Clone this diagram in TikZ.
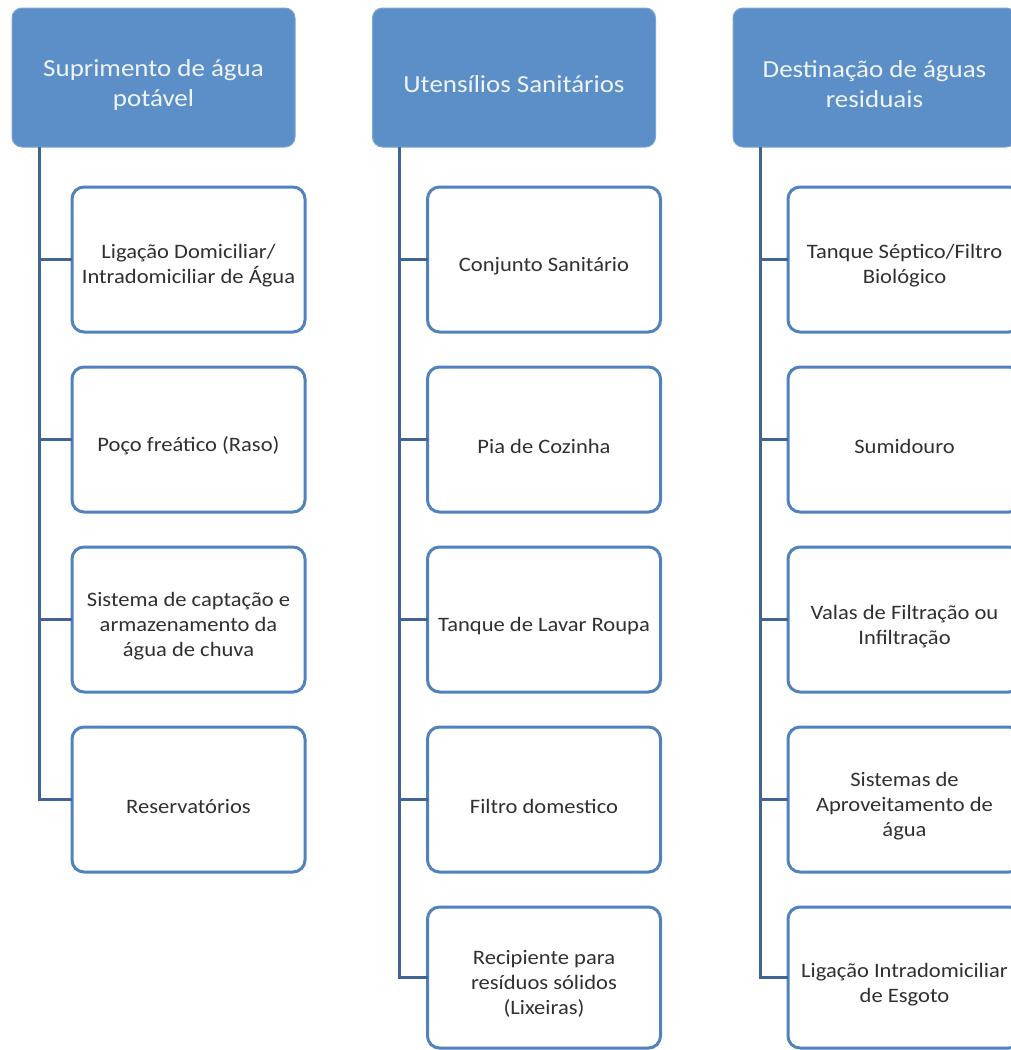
\documentclass[tikz,border=0pt]{standalone}
\usepackage{fontspec}
\setmainfont{Carlito}[FakeStretch=1.1]
\usepackage{tikz}
\usetikzlibrary{positioning}
\definecolor{HeadFill}{RGB}{92,143,200}
\definecolor{BoxLine}{RGB}{80,130,190}
\definecolor{TreeLine}{RGB}{64,100,150}
\definecolor{BoxText}{RGB}{48,48,48}
\newcommand{\hdw}{283}
\newcommand{\hdh}{139}
\newcommand{\bxw}{233}
\newcommand{\bxh}{145}
\newcommand{\stem}{27}
\newcommand{\dropstrut}{\rule{0pt}{\dimexpr\ht\strutbox+10pt\relax}}
\tikzset{
    headbox/.style={draw=HeadFill!80!white,fill=HeadFill,line width=1pt,rounded corners=10pt,
        minimum width=\hdw pt,minimum height=\hdh pt,inner sep=0pt,outer sep=0pt,
        align=center,text=white!90!HeadFill,font=\fontsize{24.5}{30}\selectfont},
    itembox/.style={draw=BoxLine,fill=white,line width=3pt,rounded corners=12pt,
        minimum width=\bxw pt,minimum height=\bxh pt,inner sep=0pt,outer sep=0pt,
        align=center,text=BoxText,font=\fontsize{20.5}{25}\selectfont},
    treeline/.style={draw=TreeLine,line width=3pt},
    node distance=35pt
}

\begin{document}
\begin{tikzpicture}[x=1pt,y=-1pt]
    \useasboundingbox (0,0) rectangle (1011,1050);    % Freeze the bounding box
    \clip (0,0) rectangle (1011,1050);
    \fill[white] (0,0) rectangle (1011,1050);
    %
    % --- --- --- Headers
    \node[headbox] (H1) at (153.5,77.5) {\dropstrut Suprimento de água\\potável};
    \node[headbox] (H2) at (514,77.5) {\dropstrut Utensílios Sanitários};
    \node[headbox] (H3) at (874.5,77.5) {\dropstrut Destinação de águas\\residuais};
    %
    % --- --- --- Suprimento de água potável
    \node[itembox,below right=40pt and 60pt of H1.south west] (C11) {\dropstrut Ligação Domiciliar/\\Intradomiciliar de Água};
    \node[itembox,below=of C11] (C12) {\dropstrut Poço freático (Raso)};
    \node[itembox,below=of C12] (C13) {\dropstrut Sistema de captação e\\armazenamento da\\água de chuva};
    \node[itembox,below=of C13] (C14) {\dropstrut Reservatórios};
    %
    % --- --- --- Utensílios Sanitários
    \node[itembox,below right=40pt and 55pt of H2.south west] (C21) {\dropstrut Conjunto Sanitário};
    \node[itembox,below=of C21] (C22) {\dropstrut Pia de Cozinha};
    \node[itembox,below=of C22] (C23) {\dropstrut Tanque de Lavar Roupa};
    \node[itembox,below=of C23] (C24) {\dropstrut Filtro domestico};
    \node[itembox,below=of C24,minimum height=141pt] (C25) {\dropstrut Recipiente para\\resíduos sólidos\\(Lixeiras)};
    %
    % --- --- --- Destinação de águas residuais
    \node[itembox,below right=40pt and 55pt of H3.south west] (C31) {\dropstrut Tanque Séptico/Filtro\\Biológico};
    \node[itembox,below=of C31] (C32) {\dropstrut Sumidouro};
    \node[itembox,below=of C32] (C33) {\dropstrut Valas de Filtração ou\\Infiltração};
    \node[itembox,below=of C33] (C34) {\dropstrut Sistemas de\\Aproveitamento de\\água};
    \node[itembox,below=of C34,minimum height=141pt] (C35) {\dropstrut Ligação Intradomiciliar\\de Esgoto};
    %
    % === === === Tree lines
    \coordinate (T1) at ([xshift=\stem pt]H1.south west);
    \coordinate (T2) at ([xshift=\stem pt]H2.south west);
    \coordinate (T3) at ([xshift=\stem pt]H3.south west);
    \draw[treeline] (T1) |- (C14.west);
    \draw[treeline] (C11.west) -- (C11.west -| T1);
    \draw[treeline] (C12.west) -- (C12.west -| T1);
    \draw[treeline] (C13.west) -- (C13.west -| T1);
    %
    \draw[treeline] (T2) |- (C25.west);
    \draw[treeline] (C21.west) -- (C21.west -| T2);
    \draw[treeline] (C22.west) -- (C22.west -| T2);
    \draw[treeline] (C23.west) -- (C23.west -| T2);
    \draw[treeline] (C24.west) -- (C24.west -| T2);
    %
    \draw[treeline] (T3) |- (C35.west);
    \draw[treeline] (C31.west) -- (C31.west -| T3);
    \draw[treeline] (C32.west) -- (C32.west -| T3);
    \draw[treeline] (C33.west) -- (C33.west -| T3);
    \draw[treeline] (C34.west) -- (C34.west -| T3);
\end{tikzpicture}
\end{document}
